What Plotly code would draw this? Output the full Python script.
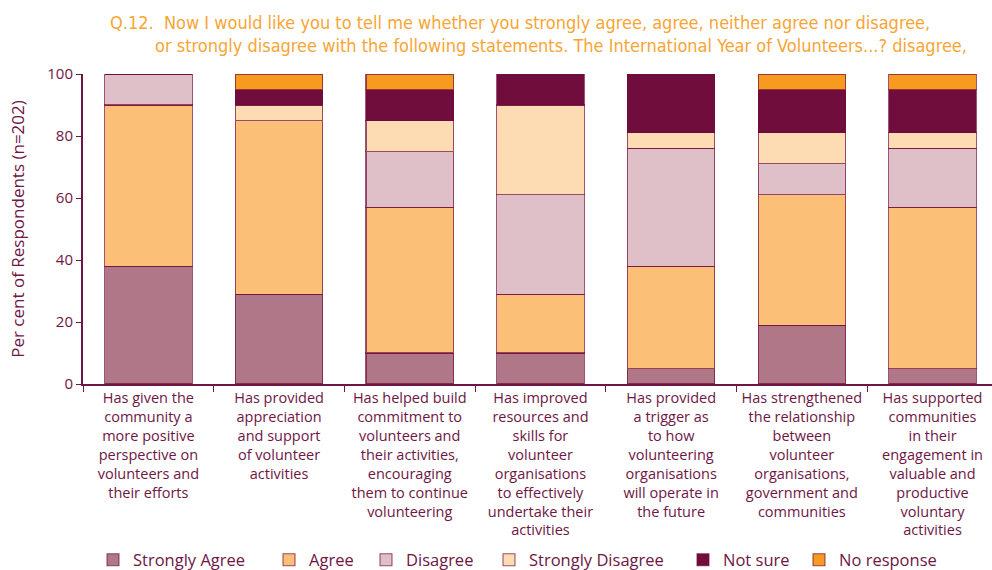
import plotly.graph_objects as go

# Survey statements (x-axis categories)
categories = [
    "Has given the<br>community a<br>more positive<br>perspective on<br>volunteers and<br>their efforts",
    "Has provided<br>appreciation<br>and support<br>of volunteer<br>activities",
    "Has helped build<br>commitment to<br>volunteers and<br>their activities,<br>encouraging<br>them to continue<br>volunteering",
    "Has improved<br>resources and<br>skills for<br>volunteer<br>organisations<br>to effectively<br>undertake their<br>activities",
    "Has provided<br>a trigger as<br>to how<br>volunteering<br>organisations<br>will operate in<br>the future",
    "Has strengthened<br>the relationship<br>between<br>volunteer<br>organisations,<br>government and<br>communities",
    "Has supported<br>communities<br>in their<br>engagement in<br>valuable and<br>productive<br>voluntary<br>activities",
]

# Per cent of respondents (n=202) for each response
strongly_agree = [38, 29, 10, 10, 5, 19, 5]
agree = [52, 56, 47, 19, 33, 42, 52]
disagree = [10, 0, 18, 32, 38, 10, 19]
strongly_disagree = [0, 5, 10, 29, 5, 10, 5]
not_sure = [0, 5, 10, 10, 19, 14, 14]
no_response = [0, 5, 5, 0, 0, 5, 5]

y_ticks = [0, 20, 40, 60, 80, 100]

series = [
    ("Strongly Agree", strongly_agree, "#b07788"),
    ("Agree", agree, "#fbbf78"),
    ("Disagree", disagree, "#dfc0c8"),
    ("Strongly Disagree", strongly_disagree, "#fddcb3"),
    ("Not sure", not_sure, "#700d3c"),
    ("No response", no_response, "#f69a20"),
]

# Left edge (px) of each legend entry along the bottom row
legend_x_px = [93, 269, 366, 489, 683, 799]

MAROON = "#6e1645"
ORANGE = "#f7a535"
TITLE_FONT = "DejaVu Sans Condensed, sans-serif"
BODY_FONT = "Open Sans, sans-serif"
W, H = 992, 570

fig = go.Figure()
legends = {}
for i, (name, vals, color) in enumerate(series):
    key = "legend" if i == 0 else f"legend{i + 1}"
    fig.add_trace(go.Bar(
        name=name,
        x=categories,
        y=vals,
        width=0.67,
        legend=key,
        marker=dict(color=color, line=dict(color="rgba(112,13,60,0.7)", width=1.1)),
    ))
    legends[key] = dict(
        orientation="h",
        xref="container", yref="container",
        x=legend_x_px[i] / W, y=10 / H, xanchor="left", yanchor="middle",
        font=dict(size=16.5, color=MAROON, family=BODY_FONT),
        bgcolor="rgba(0,0,0,0)",
    )

fig.update_layout(
    barmode="stack",
    width=W,
    height=H,
    margin=dict(l=83, r=0, t=74, b=186),
    paper_bgcolor="white",
    plot_bgcolor="white",
    font=dict(family=BODY_FONT, color=MAROON, size=16),
    showlegend=True,
    xaxis=dict(
        type="category",
        range=[-0.5, 6.455],
        showline=True, linecolor=MAROON, linewidth=2,
        ticks="outside", tickson="boundaries", ticklen=6, tickcolor=MAROON,
        tickangle=0, automargin=False,
        tickfont=dict(size=14.5, color=MAROON, family=BODY_FONT),
        showgrid=False,
    ),
    yaxis=dict(
        range=[0, 100],
        tickvals=y_ticks,
        showline=True, linecolor=MAROON, linewidth=2,
        ticks="outside", ticklen=5, tickcolor=MAROON,
        automargin=False,
        tickfont=dict(size=15, color=MAROON, family=BODY_FONT),
        showgrid=False, zeroline=False,
        title=dict(text="Per cent of Respondents (n=202)",
                   font=dict(size=17, color=MAROON, family=BODY_FONT),
                   standoff=18),
    ),
    annotations=[
        dict(text="Q.12.  Now I would like you to tell me whether you strongly agree, agree, neither agree nor disagree,",
             xref="paper", yref="paper", x=(108 - 83) / 909, y=1 + (74 - 22) / 310,
             xanchor="left", yanchor="middle", showarrow=False,
             font=dict(size=18, color=ORANGE, family=TITLE_FONT)),
        dict(text="or strongly disagree with the following statements. The International Year of Volunteers...? disagree,",
             xref="paper", yref="paper", x=(153 - 83) / 909, y=1 + (74 - 45) / 310,
             xanchor="left", yanchor="middle", showarrow=False,
             font=dict(size=18, color=ORANGE, family=TITLE_FONT)),
    ],
    **legends,
)

fig.write_html("out.html")
